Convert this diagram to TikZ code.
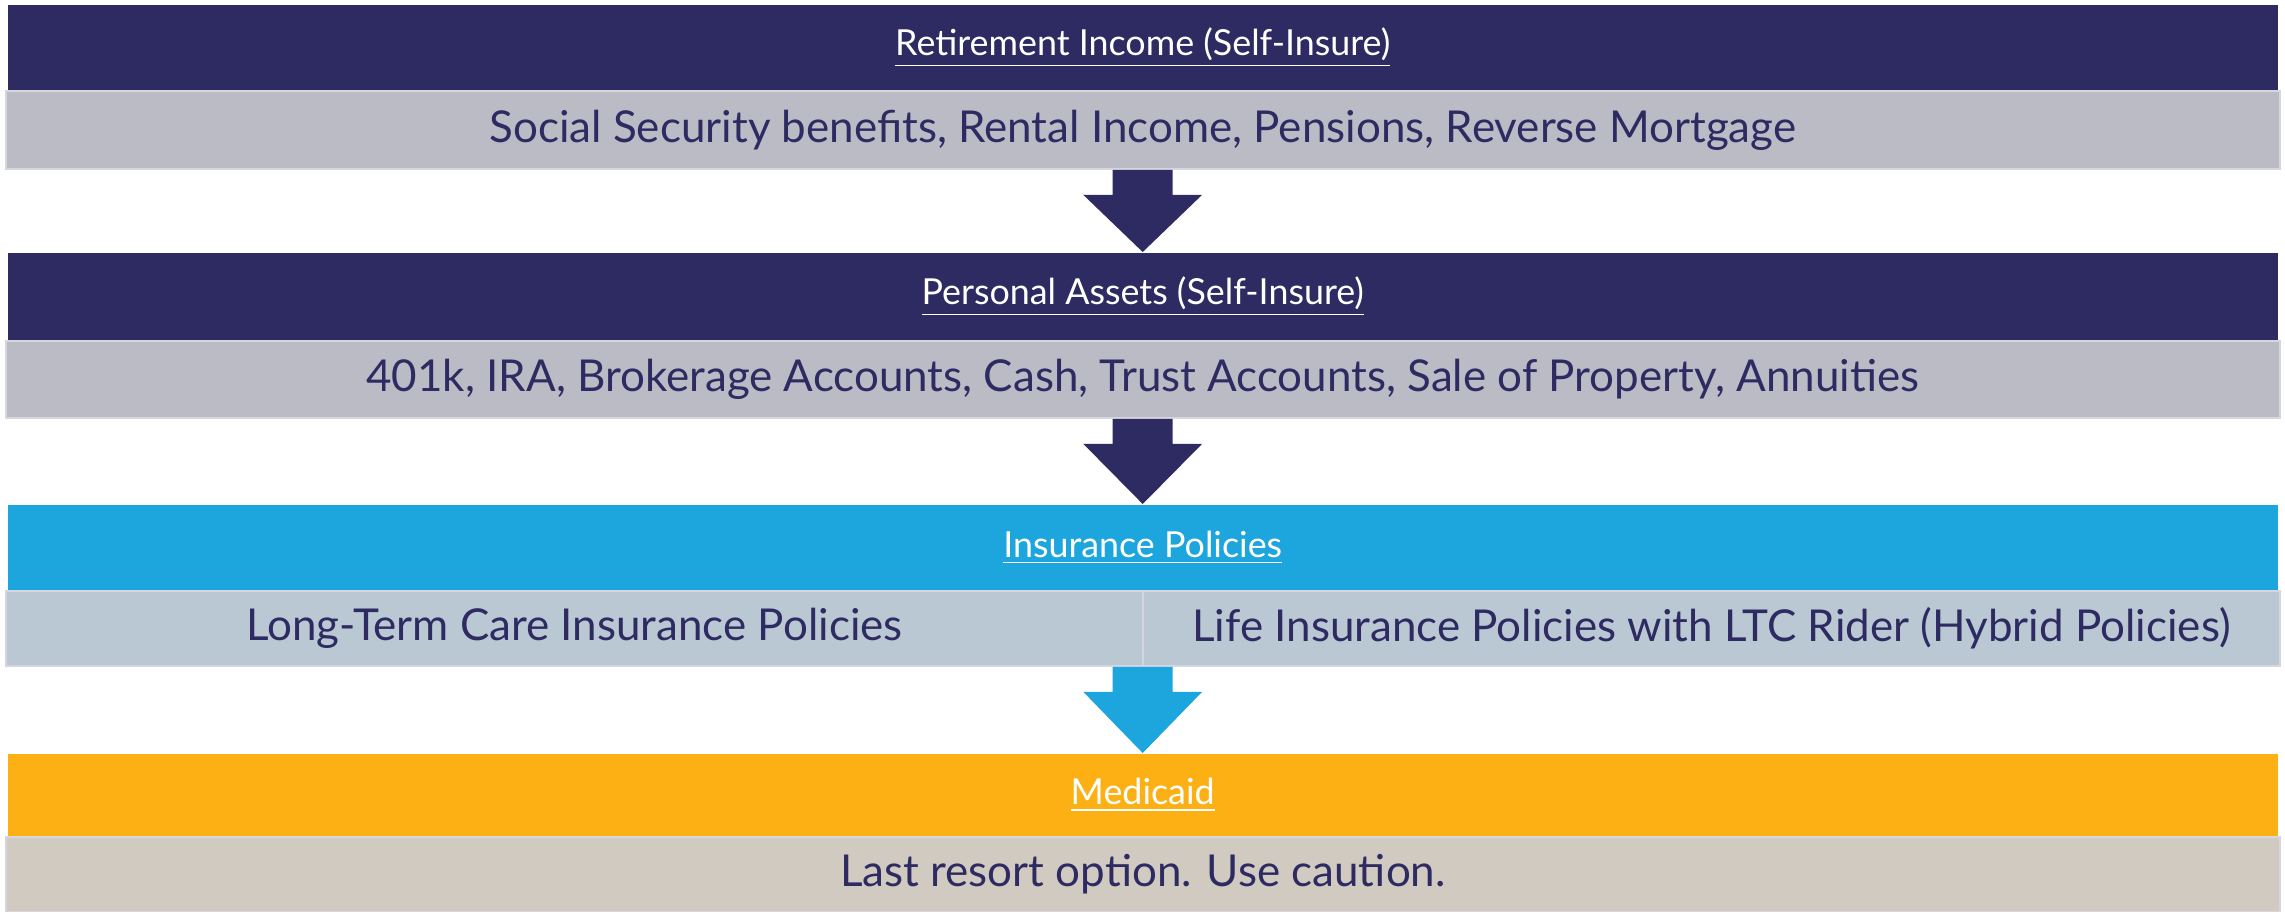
\documentclass[tikz,border=0pt]{standalone}
\usepackage{fontspec}
\setmainfont{Lato}
\usetikzlibrary{calc}

\definecolor{navy}{HTML}{2E2A62}
\definecolor{bandgray}{HTML}{BBBBC5}
\definecolor{bandedge}{HTML}{D6D6DE}
\definecolor{skyblue}{HTML}{1DA5DD}
\definecolor{bluegray}{HTML}{BAC8D3}
\definecolor{amber}{HTML}{FDB013}
\definecolor{sand}{HTML}{D1CAC0}

\begin{document}
\begin{tikzpicture}[
  header/.style={anchor=north west, inner sep=0, minimum width=22.70cm,
    text=white, font=\fontsize{10.2}{12}\selectfont},
  band/.style={anchor=north west, inner sep=0, minimum width=22.74cm,
    draw=bandedge, line width=0.5pt, text=navy,
    font=\fontsize{12.5}{15}\selectfont},
  half/.style={anchor=north west, inner sep=0, minimum width=11.37cm,
    minimum height=0.75cm, draw=bandedge, line width=0.5pt, fill=bluegray,
    text=navy, font=\fontsize{12.5}{15}\selectfont},
  % block arrow: shaft 0.6 wide, head 1.19 wide
  flow/.style={to path={
    -- ($(\tikztostart)+(0.3,0)$) -- ($(\tikztostart)+(0.3,-0.25)$)
    -- ($(\tikztostart)+(0.595,-0.25)$) -- (\tikztotarget)
    -- ($(\tikztostart)+(-0.595,-0.25)$) -- ($(\tikztostart)+(-0.3,-0.25)$)
    -- ($(\tikztostart)+(-0.3,0)$) -- cycle}}
]
\useasboundingbox (0,0) rectangle (22.85,-9.11);
%retirement income
\node[header, fill=navy, minimum height=0.86cm] (ret) at (0.07,-0.04)
     {\underline{Retirement Income (Self-Insure)}};
\node[band, fill=bandgray, minimum height=0.78cm] (retband) at (0.05,-0.90)
     {Social Security benefits, Rental Income, Pensions, Reverse Mortgage};
%personal assets
\node[header, fill=navy, minimum height=0.88cm] (assets) at (0.07,-2.52)
     {\underline{Personal Assets (Self-Insure)}};
\node[band, fill=bandgray, minimum height=0.77cm] (assetband) at (0.05,-3.40)
     {401k, IRA, Brokerage Accounts, Cash, Trust Accounts, Sale of Property, Annuities};
%insurance policies
\node[header, fill=skyblue, minimum height=0.86cm] (ins) at (0.07,-5.04)
     {\underline{Insurance Policies}};
\node[half] (ltc) at (0.05,-5.90) {Long-Term Care Insurance Policies};
\node[half] (life) at (11.42,-5.90)
     {Life Insurance Policies with LTC Rider (Hybrid Policies)};
%medicaid
\node[header, fill=amber, minimum height=0.83cm] (med) at (0.07,-7.53)
     {\underline{Medicaid}};
\node[band, fill=sand, minimum height=0.75cm] (medband) at (0.05,-8.36)
     {Last resort option. Use caution.};
%arrows between the steps
\coordinate (out1) at (retband.south -| ret.south);
\coordinate (out2) at (assetband.south -| assets.south);
\coordinate (out3) at (ltc.south -| ins.south);
\fill[navy] (out1) to[flow] (assets.north);
\fill[navy] (out2) to[flow] (ins.north);
\fill[skyblue] (out3) to[flow] (med.north);
\end{tikzpicture}
\end{document}
